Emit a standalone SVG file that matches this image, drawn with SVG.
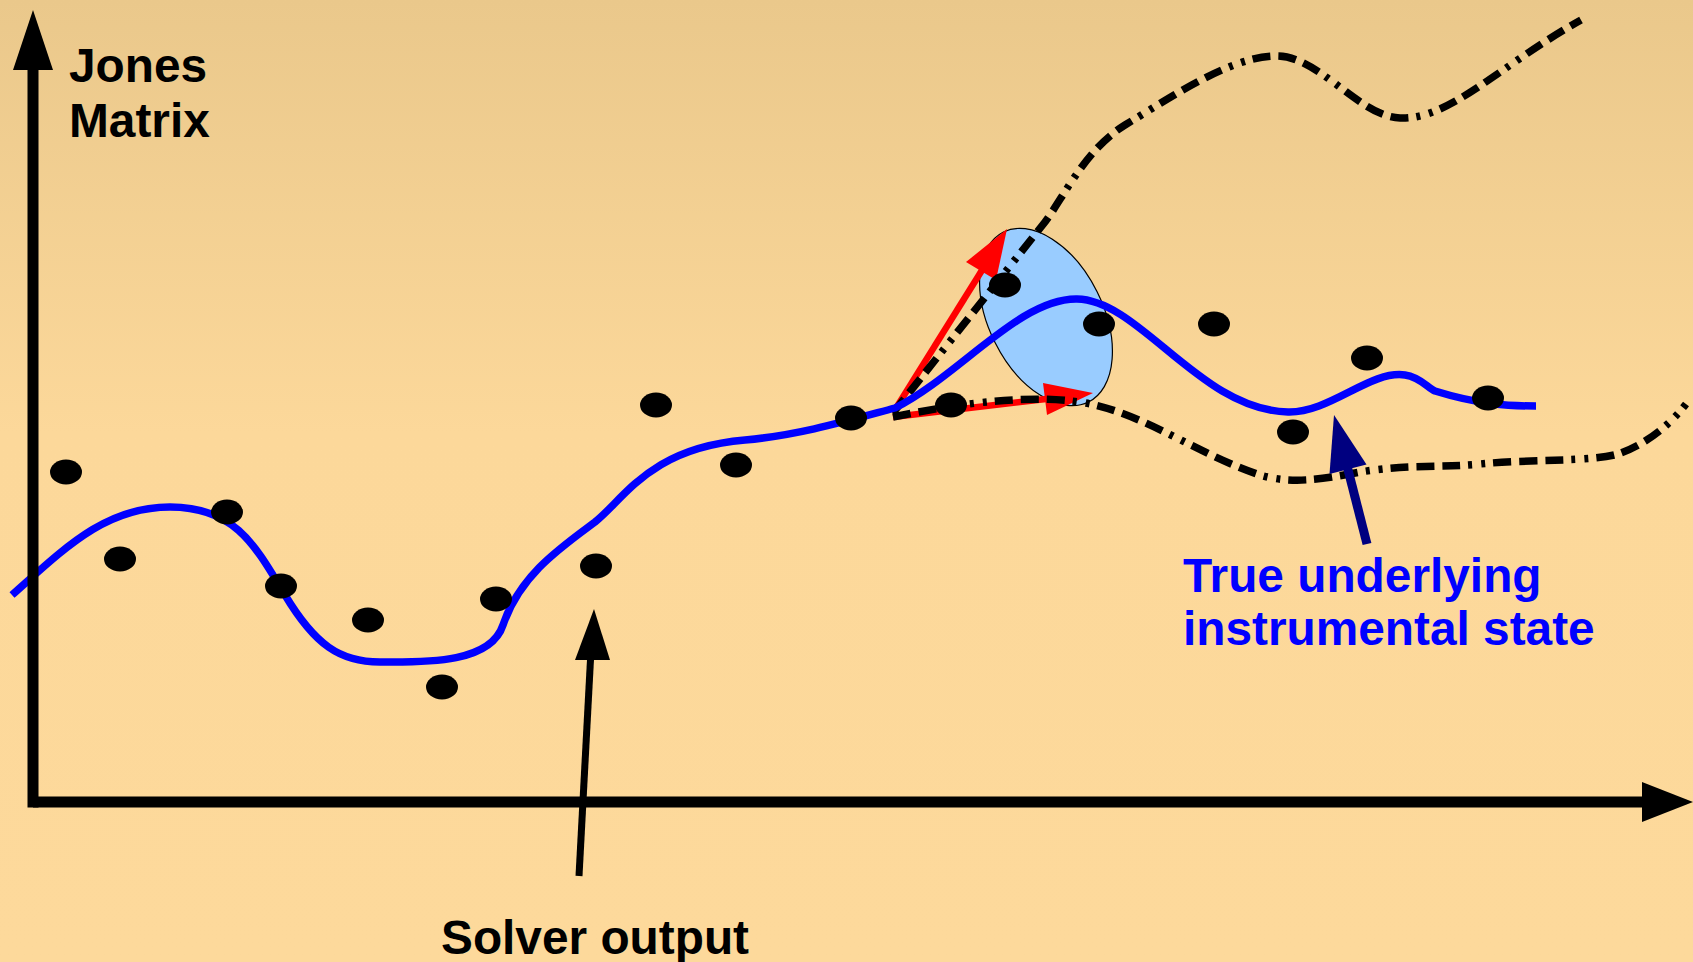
<svg xmlns="http://www.w3.org/2000/svg" width="1693" height="962" viewBox="0 0 1693 962">
  <defs>
    <linearGradient id="bg" x1="0" y1="0" x2="0" y2="1">
      <stop offset="0" stop-color="#EAC88B"/>
      <stop offset="0.45" stop-color="#FCD89A"/>
      <stop offset="1" stop-color="#FDD99B"/>
    </linearGradient>
  </defs>
  <style>
    .lbl { font-family: "Liberation Sans", Arial, sans-serif; font-weight: bold; font-size: 47.8px; }
    .axis { stroke: #000; stroke-width: 11; fill: none; }
    .dash { stroke: #000; stroke-width: 7.5; fill: none; stroke-dasharray: 18 8 18 8 18 8 4 9 4 8; }
    .true { stroke: #0000FF; stroke-width: 7.5; fill: none; }
    .red { stroke: #FF0000; stroke-width: 6.5; fill: none; }
    .dot { fill: #000; }
  </style>
  <rect x="0" y="0" width="1693" height="962" fill="url(#bg)"/>

  <g id="uncertainty-ellipse">
    <ellipse cx="0" cy="0" rx="95" ry="57" transform="translate(1046 317) rotate(63.4)" fill="#99CCFF" stroke="#000" stroke-width="1.2"/>
  </g>

  <g id="connectors">
    <g id="red-arrows">
      <line class="red" x1="893" y1="413" x2="984" y2="267"/>
      <polygon points="1007,229 966,262 996,280" fill="#FF0000"/>
      <line class="red" x1="893" y1="417" x2="1046" y2="399"/>
      <polygon points="1093,393 1043,383 1047,415" fill="#FF0000"/>
    </g>
    <g id="bound-lines">
      <path class="dash" d="M 893 413 L 1045 222 C 1065 195, 1085 150, 1125 125 C 1170 98, 1232 55, 1278 56 C 1320 57, 1360 117, 1400 118 C 1450 120, 1500 65, 1581 20"/>
      <path class="dash" d="M 893 417 C 960 403, 1040 392, 1095 405 C 1150 418, 1200 455, 1260 475 C 1290 484, 1320 480, 1360 472 C 1410 464, 1440 468, 1480 464 C 1530 459, 1590 462, 1618 454 C 1645 445, 1670 425, 1686 404"/>
    </g>
    <g id="true-state-curve">
      <path class="true" d="M 12 595 C 65 548, 105 507, 170 507 C 235 507, 255 545, 285 595 C 315 645, 340 662, 380 662 C 420 662, 490 665, 503 625 C 520 575, 560 548, 595 522 C 625 498, 650 448, 745 440 C 800 435, 850 420, 895 408 C 960 375, 1020 298, 1077 299 C 1140 300, 1200 410, 1288 412 C 1330 413, 1370 370, 1405 375 C 1420 377, 1428 388, 1435 391 C 1480 405, 1510 406, 1536 406"/>
    </g>
  </g>

  <g id="solver-points">
    <ellipse class="dot" cx="66" cy="472" rx="16" ry="12.5"/>
    <ellipse class="dot" cx="120" cy="559" rx="16" ry="12.5"/>
    <ellipse class="dot" cx="227" cy="512" rx="16" ry="12.5"/>
    <ellipse class="dot" cx="281" cy="586" rx="16" ry="12.5"/>
    <ellipse class="dot" cx="368" cy="620" rx="16" ry="12.5"/>
    <ellipse class="dot" cx="442" cy="687" rx="16" ry="12.5"/>
    <ellipse class="dot" cx="496" cy="599" rx="16" ry="12.5"/>
    <ellipse class="dot" cx="596" cy="566" rx="16" ry="12.5"/>
    <ellipse class="dot" cx="656" cy="405" rx="16" ry="12.5"/>
    <ellipse class="dot" cx="736" cy="465" rx="16" ry="12.5"/>
    <ellipse class="dot" cx="851" cy="418" rx="16" ry="12.5"/>
    <ellipse class="dot" cx="951" cy="405" rx="16" ry="12.5"/>
    <ellipse class="dot" cx="1005" cy="285" rx="16" ry="12.5"/>
    <ellipse class="dot" cx="1099" cy="324" rx="16" ry="12.5"/>
    <ellipse class="dot" cx="1214" cy="324" rx="16" ry="12.5"/>
    <ellipse class="dot" cx="1367" cy="358" rx="16" ry="12.5"/>
    <ellipse class="dot" cx="1293" cy="432" rx="16" ry="12.5"/>
    <ellipse class="dot" cx="1488" cy="398" rx="16" ry="12.5"/>
  </g>

  <g id="axes">
    <line class="axis" x1="33" y1="65" x2="33" y2="807.5"/>
    <polygon points="33,10 13,70 53,70" fill="#000"/>
    <line class="axis" x1="33" y1="802" x2="1646" y2="802"/>
    <polygon points="1693,802 1642,782 1642,822" fill="#000"/>
  </g>

  <g id="label-jones">
    <text class="lbl" x="69" y="82" fill="#000">Jones</text>
    <text class="lbl" x="69" y="137" fill="#000">Matrix</text>
  </g>

  <g id="label-solver">
    <line x1="579" y1="876" x2="591" y2="650" stroke="#000" stroke-width="7"/>
    <polygon points="594,609 575,660 610,660" fill="#000"/>
    <text class="lbl" x="441" y="954" fill="#000">Solver output</text>
  </g>

  <g id="label-true">
    <line x1="1367" y1="544" x2="1345" y2="458" stroke="#000080" stroke-width="9"/>
    <polygon points="1334,415 1329.5,474 1366.5,464.5" fill="#000080"/>
    <text class="lbl" x="1183" y="592" fill="#0000FF">True underlying</text>
    <text class="lbl" x="1183" y="645" fill="#0000FF">instrumental state</text>
  </g>
</svg>
